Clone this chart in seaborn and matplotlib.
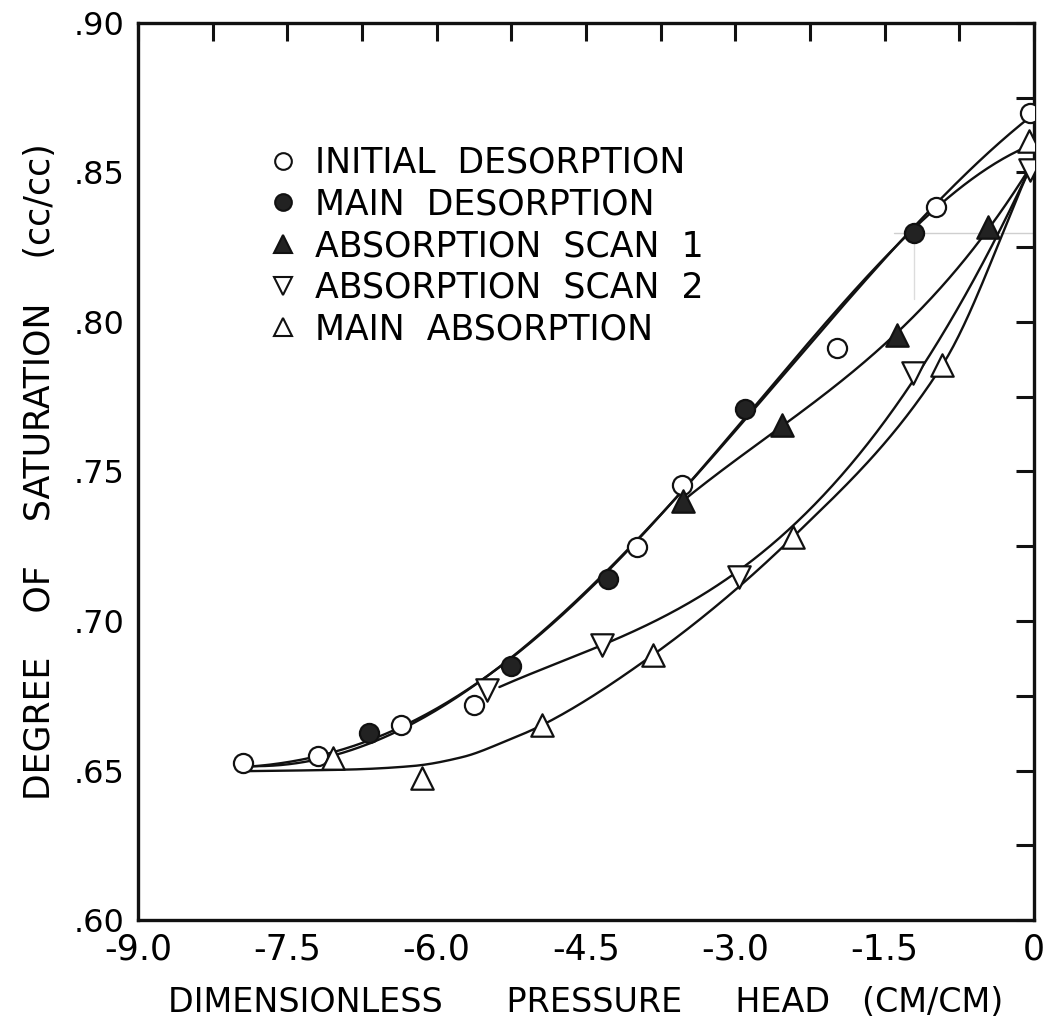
import numpy as np
import matplotlib
matplotlib.use("Agg")
import matplotlib.pyplot as plt
from matplotlib.lines import Line2D
import seaborn as sns

# Measured points: dimensionless pressure head (cm/cm) vs degree of saturation (cc/cc)
initial_des_x = [-7.95, -7.19, -6.36, -5.63, -3.99, -3.54, -1.98, -0.98, -0.04]
initial_des_y = [0.6525, 0.6549, 0.6652, 0.6719, 0.7247, 0.7455, 0.7913, 0.8385, 0.8699]

main_des_x = [-6.68, -5.25, -4.28, -2.90, -1.21]
main_des_y = [0.6625, 0.6849, 0.7140, 0.7709, 0.8298]

scan1_x = [-3.53, -2.53, -1.38, -0.46]
scan1_y = [0.7400, 0.7655, 0.7957, 0.8318]

scan2_x = [-5.49, -4.34, -2.96, -1.22, -0.04]
scan2_y = [0.6769, 0.6920, 0.7147, 0.7829, 0.8508]

main_abs_x = [-7.04, -6.15, -4.94, -3.83, -2.42, -0.92, -0.05]
main_abs_y = [0.6542, 0.6475, 0.6652, 0.6886, 0.7281, 0.7856, 0.8605]

# Knots
curve_init_des_x = [-7.88, -7.19, -6.36, -5.25, -4.28, -3.54, -2.90, -1.21, -0.98, -0.03]
curve_init_des_y = [0.6502, 0.6555, 0.6655, 0.6849, 0.7140, 0.7455, 0.7709, 0.8298, 0.8385, 0.8699]
curve_main_des_x = [-7.88, -7.19, -6.68, -5.25, -4.28, -3.54, -2.90, -1.21, -0.60, -0.05]
curve_main_des_y = [0.6502, 0.6555, 0.6625, 0.6849, 0.7140, 0.7455, 0.7709, 0.8298, 0.8465, 0.8605]
curve_scan1_x = [-3.53, -2.53, -1.38, -0.46, -0.05]
curve_scan1_y = [0.7400, 0.7655, 0.7957, 0.8318, 0.8508]
curve_scan2_x = [-5.37, -4.34, -2.96, -2.48, -1.22, -0.05]
curve_scan2_y = [0.6779, 0.6920, 0.7167, 0.7304, 0.7800, 0.8508]
curve_main_abs_x = [-7.88, -6.90, -6.24, -5.74, -5.30, -4.94, -3.83, -2.42, -0.92, -0.05]
curve_main_abs_y = [0.6498, 0.6503, 0.6515, 0.6545, 0.6599, 0.6652, 0.6886, 0.7281, 0.7856, 0.8508]

legend_labels = [
    "INITIAL  DESORPTION",
    "MAIN  DESORPTION",
    "ABSORPTION  SCAN  1",
    "ABSORPTION  SCAN  2",
    "MAIN  ABSORPTION",
]

x_tick_labels = ["-9.0", "", "-7.5", "", "-6.0", "", "-4.5", "", "-3.0", "", "-1.5", "", "0"]
y_tick_labels = [".60", "", ".65", "", ".70", "", ".75", "", ".80", "", ".85", "", ".90"]

sns.set_theme(style="white")
plt.rcParams["font.family"] = ["DejaVu Sans"]
ink = "#111111"
for key in ("text.color", "axes.labelcolor", "xtick.color", "ytick.color",
            "xtick.labelcolor", "ytick.labelcolor"):
    plt.rcParams[key] = "black"

fig = plt.figure(figsize=(10.43, 10.26), dpi=100)
ax = fig.add_axes([0.1323, 0.1033, 0.8591, 0.8743])


def poly_curve(xk, yk, deg, n=300):
    """Least-squares polynomial through the traced knots."""
    poly = np.polynomial.Polynomial.fit(xk, yk, deg)
    xs = np.linspace(min(xk), max(xk), n)
    return xs, poly(xs)


def monotone_curve(xk, yk, n=300):
    """Shape-preserving cubic Hermite (PCHIP) through the traced knots."""
    x = np.asarray(xk, float)
    y = np.asarray(yk, float)
    h = np.diff(x)
    d = np.diff(y) / h
    m = np.empty_like(y)
    m[0], m[-1] = d[0], d[-1]
    for k in range(1, len(x) - 1):
        if d[k - 1] * d[k] <= 0:
            m[k] = 0.0
        else:
            w1 = 2 * h[k] + h[k - 1]
            w2 = h[k] + 2 * h[k - 1]
            m[k] = (w1 + w2) / (w1 / d[k - 1] + w2 / d[k])
    xs = np.linspace(x[0], x[-1], n)
    i = np.clip(np.searchsorted(x, xs) - 1, 0, len(h) - 1)
    t = (xs - x[i]) / h[i]
    ys = ((2 * t**3 - 3 * t**2 + 1) * y[i] + (t**3 - 2 * t**2 + t) * h[i] * m[i]
          + (-2 * t**3 + 3 * t**2) * y[i + 1] + (t**3 - t**2) * h[i] * m[i + 1])
    return xs, ys


curve_lines = [
    poly_curve(curve_init_des_x, curve_init_des_y, 4),
    poly_curve(curve_main_des_x, curve_main_des_y, 4),
    poly_curve(curve_scan1_x, curve_scan1_y, 3),
    poly_curve(curve_scan2_x, curve_scan2_y, 4),
    monotone_curve(curve_main_abs_x, curve_main_abs_y),
]
for xs, ys in curve_lines:
    sns.lineplot(x=xs, y=ys, ax=ax, color=ink, linewidth=1.7,
                 sort=False, estimator=None, zorder=2)

# faint construction lines through the main-desorption point near -1.2
gx, gy = main_des_x[-1], main_des_y[-1]
ax.plot([gx - 0.2, 0], [gy, gy], color="#cfcfcf", linewidth=1.0, zorder=1)
ax.plot([gx, gx], [gy - 0.022, gy], color="#dcdcdc", linewidth=1.0, zorder=1)

series = [
    (initial_des_x, initial_des_y, "o", "white", 190),
    (main_des_x, main_des_y, "o", "#222222", 190),
    (scan1_x, scan1_y, "^", "#222222", 260),
    (scan2_x, scan2_y, "v", "white", 260),
    (main_abs_x, main_abs_y, "^", "white", 260),
]
for sx, sy, mk, fc, size in series:
    sns.scatterplot(x=sx, y=sy, ax=ax, marker=mk, s=size, color=fc,
                    edgecolor=ink, linewidth=1.6, zorder=4)

handles = [
    Line2D([], [], ls="none", marker=mk, markersize=12 if mk == "o" else 13,
           markerfacecolor=fc, markeredgecolor=ink, markeredgewidth=1.5)
    for _, _, mk, fc, _ in series
]
ax.legend(handles=handles, labels=legend_labels, loc="upper left",
          bbox_to_anchor=(0.1429, 0.863), frameon=False, fontsize=25,
          handlelength=1.0, handletextpad=0.4, labelspacing=0.22,
          borderpad=0, borderaxespad=0, labelcolor="black")

ax.set_xlim(-9, 0)
ax.set_ylim(0.60, 0.90)
ax.set_xticks(np.linspace(-9, 0, 13))
ax.set_xticklabels(x_tick_labels)
ax.set_yticks(np.linspace(0.60, 0.90, 13))
ax.set_yticklabels(y_tick_labels)
ax.tick_params(axis="both", which="both", direction="in", length=13, width=2.2,
               color=ink, labelcolor="black", top=True, right=True,
               labeltop=False, labelright=False)
ax.tick_params(axis="x", labelsize=25, pad=9)
ax.tick_params(axis="y", labelsize=23, pad=10)

for side in ax.spines.values():
    side.set_visible(True)
    side.set_color(ink)
    side.set_linewidth(2.4)

ax.set_xlabel("DIMENSIONLESS      PRESSURE     HEAD   (CM/CM)", fontsize=24,
              labelpad=14, color="black")
ax.set_ylabel("DEGREE    OF    SATURATION    (cc/cc)", fontsize=25,
              labelpad=12, color="black")
ax.grid(False)

fig.savefig("out.png", dpi=100, facecolor="white")
